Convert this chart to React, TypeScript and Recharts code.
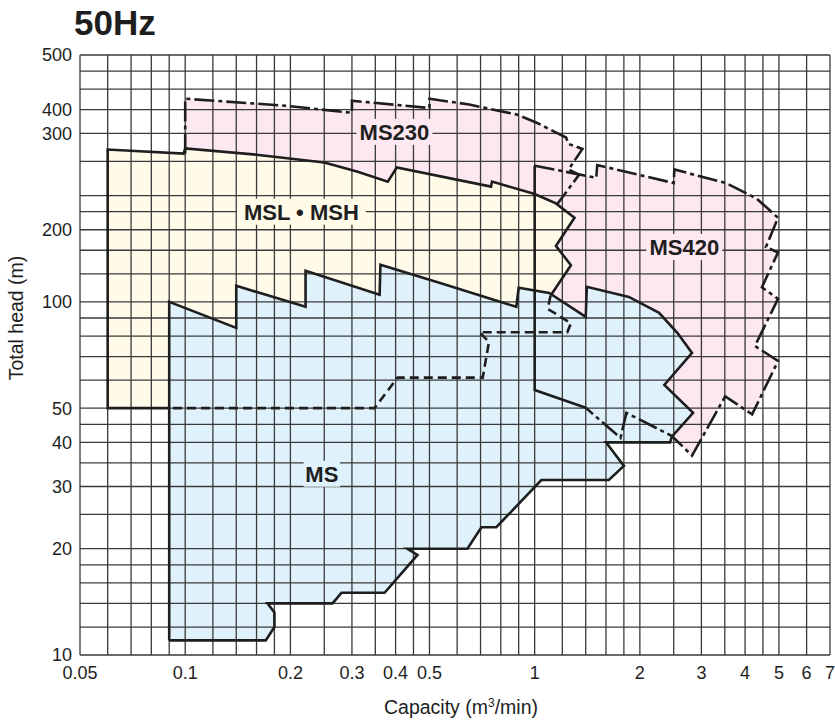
import React from "react";
import { ScatterChart, Scatter, XAxis, YAxis, CartesianGrid } from "recharts";

// axes
const X_TICKS = [0.05, 0.1, 0.2, 0.3, 0.4, 0.5, 1, 2, 3, 4, 5, 6, 7];
const Y_TICKS = [10, 20, 30, 40, 50, 100, 160, 300, 350, 500];
// the printed sheet puts "200" on the 160 line and "400" on the 350 line
const Y_TICK_TEXT: Record<number, string> = { 160: "200", 350: "400" };

const V_GRID = [
  0.05, 0.06, 0.07, 0.08, 0.09, 0.1, 0.12, 0.14, 0.16, 0.18, 0.2, 0.25, 0.3, 0.35, 0.4, 0.45,
  0.5, 0.6, 0.7, 0.8, 0.9, 1, 1.2, 1.4, 1.6, 1.8, 2, 2.5, 3, 3.5, 4, 4.5, 5, 6, 7,
];
const H_GRID = [
  10, 12, 14, 16, 18, 20, 25, 30, 35, 40, 45, 50, 60, 70, 80, 90, 100, 120, 140, 160, 180, 200,
  250, 300, 350, 400, 450, 500,
];

// MSL • MSH range: visible outline, then the part hidden under MS
const MSL_EDGE: [number, number][] = [
  [0.09, 50], [0.06, 50], [0.06, 270], [0.099, 263], [0.1, 272], [0.16, 261], [0.25, 248],
  [0.31, 234], [0.38, 219], [0.403, 240], [0.75, 212], [0.755, 219], [1.0, 202], [1.15, 190],
  [1.3, 173], [1.15, 144], [1.27, 127], [1.11, 104],
];
const MSL_HIDDEN: [number, number][] = [
  [1.11, 104], [1.09, 95.5], [1.27, 87], [1.24, 82], [0.695, 82], [0.74, 77], [0.71, 61],
  [0.405, 61], [0.348, 50], [0.09, 50],
];

// MS230 range (its lower side is the MSL top)
const MS230_EDGE: [number, number][] = [
  [0.1, 263], [0.1, 376], [0.195, 359], [0.3, 343], [0.3, 371], [0.5, 354], [0.5, 376],
  [0.65, 362], [0.89, 339], [1.01, 322], [1.23, 292], [1.25, 280], [1.37, 271], [1.25, 237],
  [1.34, 229], [1.16, 189],
];

// MS420 range
const MS420_SOLID: [number, number][] = [[1.4, 50.1], [1.0, 56.3], [1.0, 243]];
const MS420_DASH: [number, number][] = [
  [1.0, 243], [1.5, 224.5], [1.51, 244], [2.5, 217], [2.51, 237], [3.53, 217], [4.32, 196],
  [4.97, 173], [4.59, 143], [4.97, 138], [4.47, 110], [4.97, 102], [4.27, 75], [4.97, 68],
  [4.19, 48], [3.51, 54], [2.82, 36.7], [2.47, 41.7], [1.83, 48.5], [1.76, 41.2], [1.4, 50.1],
];

// MS range
const MS_EDGE: [number, number][] = [
  [0.09, 11], [0.09, 100], [0.14, 84.4], [0.14, 111], [0.221, 96.8], [0.221, 122.4],
  [0.36, 104.7], [0.362, 127.3], [0.545, 112.5], [0.886, 96.8], [0.9, 109.6], [1.1, 106],
  [1.4, 90.7], [1.41, 110.3], [1.86, 103.3], [2.27, 93.1], [2.56, 81.7], [2.82, 71.7],
  [2.35, 58.2], [2.84, 48.5], [2.47, 41.5], [2.44, 40], [1.6, 40], [1.8, 34.3], [1.63, 31.3],
  [1.045, 31.3], [0.777, 23], [0.704, 23], [0.642, 20], [0.432, 20], [0.462, 19.2],
  [0.372, 15], [0.28, 15], [0.264, 14], [0.172, 14], [0.18, 13.2], [0.18, 12], [0.17, 11],
  [0.09, 11],
];

const LABELS = [
  { x: 0.397, y: 303, text: "MS230", bg: "#fde7f1" },
  { x: 0.215, y: 180, text: "MSL \u2022 MSH", bg: "#fffbe8" },
  { x: 2.68, y: 143, text: "MS420", bg: "#fde7f1" },
  { x: 0.246, y: 32.6, text: "MS", bg: "#dff2fb" },
];

const YELLOW = "#fffbe8";
const PINK = "#fde7f1";
const BLUE = "#dff2fb";
const INK = "#1e1e1e";
const FONT = "'Liberation Sans', Arial, Helvetica, sans-serif";

const pts = (arr: [number, number][]) => arr.map(([x, y]) => ({ x, y }));

// MS230 is closed along the MSL top (indexes 3..13 of MSL_EDGE)
const MS230_FILL = [...MS230_EDGE, ...MSL_EDGE.slice(3, 14).reverse()];
const MSL_FILL = [...MSL_EDGE, ...MSL_HIDDEN.slice(1)];
const MS420_FILL = [...MS420_SOLID, ...MS420_DASH.slice(1)];

const fillShape = (color: string) => (props: any) => {
  const p = (props.points || []).filter((q: any) => q.x != null && q.y != null);
  return <polygon points={p.map((q: any) => `${q.x},${q.y}`).join(" ")} fill={color} stroke="none" />;
};

const noDot = () => <g />;

const LabelShape = (props: any) => {
  const { cx, cy, payload } = props;
  const fs = 22;
  const w = payload.text.length * fs * 0.6 + 10;
  return (
    <g>
      <rect x={cx - w / 2} y={cy - 13} width={w} height={26} fill={payload.bg} />
      <text
        x={cx}
        y={cy}
        dy="0.36em"
        textAnchor="middle"
        fontSize={fs}
        fontWeight="bold"
        fontFamily={FONT}
        fill={INK}
      >
        {payload.text}
      </text>
    </g>
  );
};

export default function App() {
  const solid = { stroke: INK, strokeWidth: 2.6, fill: "none" };
  const dashed = { ...solid, strokeDasharray: "9 5" };
  const dashDot = { ...solid, strokeDasharray: "20 4 4 4" };

  return (
    <div style={{ position: "absolute", left: 0, top: 0, width: 835, height: 724, background: "#fff" }}>
      <ScatterChart width={835} height={724} margin={{ top: 55, right: 5, bottom: 39, left: 20 }}>
        <XAxis
          type="number"
          dataKey="x"
          scale="log"
          domain={[0.05, 7]}
          ticks={X_TICKS}
          interval={0}
          allowDataOverflow
          tickLine={false}
          axisLine={false}
          height={30}
          tickMargin={5}
          tick={{ fontSize: 18, fill: INK, fontFamily: FONT }}
        />
        <YAxis
          type="number"
          dataKey="y"
          scale="log"
          domain={[10, 500]}
          ticks={Y_TICKS}
          interval={0}
          allowDataOverflow
          tickLine={false}
          axisLine={false}
          width={60}
          tickFormatter={(v: number) => Y_TICK_TEXT[v] ?? String(v)}
          tick={{ fontSize: 18, fill: INK, fontFamily: FONT }}
        />

        <Scatter data={pts(MS230_FILL)} shape={noDot} line={fillShape(PINK)} lineType="joint" isAnimationActive={false} zIndex={100} />
        <Scatter data={pts(MS420_FILL)} shape={noDot} line={fillShape(PINK)} lineType="joint" isAnimationActive={false} zIndex={100} />
        <Scatter data={pts(MSL_FILL)} shape={noDot} line={fillShape(YELLOW)} lineType="joint" isAnimationActive={false} zIndex={100} />
        <Scatter data={pts(MS_EDGE)} shape={noDot} line={fillShape(BLUE)} lineType="joint" isAnimationActive={false} zIndex={100} />

        <CartesianGrid
          horizontalValues={H_GRID}
          verticalValues={V_GRID}
          stroke="#3a3a3a"
          strokeWidth={1.3}
          zIndex={200}
        />

        <Scatter data={pts(MS230_EDGE)} shape={noDot} line={dashDot} lineType="joint" isAnimationActive={false} zIndex={300} />
        <Scatter data={pts(MS420_DASH)} shape={noDot} line={dashDot} lineType="joint" isAnimationActive={false} zIndex={300} />
        <Scatter data={pts(MS420_SOLID)} shape={noDot} line={solid} lineType="joint" isAnimationActive={false} zIndex={300} />
        <Scatter data={pts(MSL_EDGE)} shape={noDot} line={solid} lineType="joint" isAnimationActive={false} zIndex={300} />
        <Scatter data={pts(MSL_HIDDEN)} shape={noDot} line={dashed} lineType="joint" isAnimationActive={false} zIndex={300} />
        <Scatter data={pts(MS_EDGE)} shape={noDot} line={solid} lineType="joint" isAnimationActive={false} zIndex={300} />

        <Scatter data={LABELS} shape={LabelShape} isAnimationActive={false} zIndex={400} />
      </ScatterChart>

      <svg width={835} height={724} style={{ position: "absolute", left: 0, top: 0, pointerEvents: "none" }}>
        <text x={74} y={35} fontSize={35} fontWeight="bold" fontFamily={FONT} fill={INK}>
          50Hz
        </text>
        <text x={-318} y={23} transform="rotate(-90)" textAnchor="middle" fontSize={19.5} fontFamily={FONT} fill={INK}>
          Total head (m)
        </text>
        <text x={461} y={714} textAnchor="middle" fontSize={19.5} fontFamily={FONT} fill={INK}>
          Capacity (m<tspan dy={-7} fontSize={12}>3</tspan>
          <tspan dy={7}>/min)</tspan>
        </text>
      </svg>
    </div>
  );
}
